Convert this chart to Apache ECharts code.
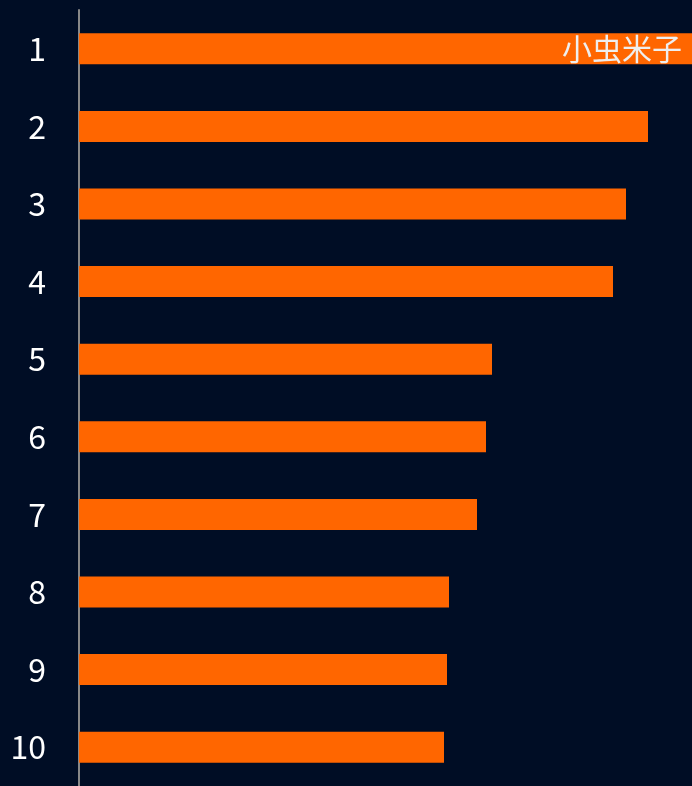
<!DOCTYPE html>
<html><head><meta charset="utf-8">
<script src="https://cdn.jsdelivr.net/npm/echarts@6/dist/echarts.min.js"></script>
<style>html,body{margin:0;padding:0;background:#000d25;}#c{width:692px;height:786px;}</style>
</head><body><div id="c"></div>
<script>
var categories = ['1','2','3','4','5','6','7','8','9','10'];
var values = [613, 569, 547, 534, 413, 407, 398, 370, 368, 365];
var names = ['小虫米子','','','','','','','','',''];
var chart = echarts.init(document.getElementById('c'));
chart.setOption({
  backgroundColor: '#000d25',
  animation: false,
  grid: {left: 79, right: 0, top: 10, bottom: -3, containLabel: false},
  xAxis: {type: 'value', show: false, min: 0, max: 'dataMax', splitLine: {show: false}},
  yAxis: {
    type: 'category', data: categories, inverse: true,
    axisLine: {show: true, lineStyle: {color: '#888', width: 2}},
    axisTick: {show: false},
    axisLabel: {color: '#fff', fontSize: 32, margin: 33, fontFamily: 'Noto Sans CJK SC'}
  },
  series: [{
    type: 'bar',
    data: values.map(function(v, i){ return {value: v, name: names[i]}; }),
    barWidth: '40%',
    itemStyle: {color: '#ff6600'},
    label: {
      show: true, position: 'insideRight', distance: 10,
      color: '#eeeeee', fontSize: 30, fontFamily: 'Noto Sans CJK SC',
      formatter: function(p){ return names[p.dataIndex]; }
    }
  }]
});
</script></body></html>
